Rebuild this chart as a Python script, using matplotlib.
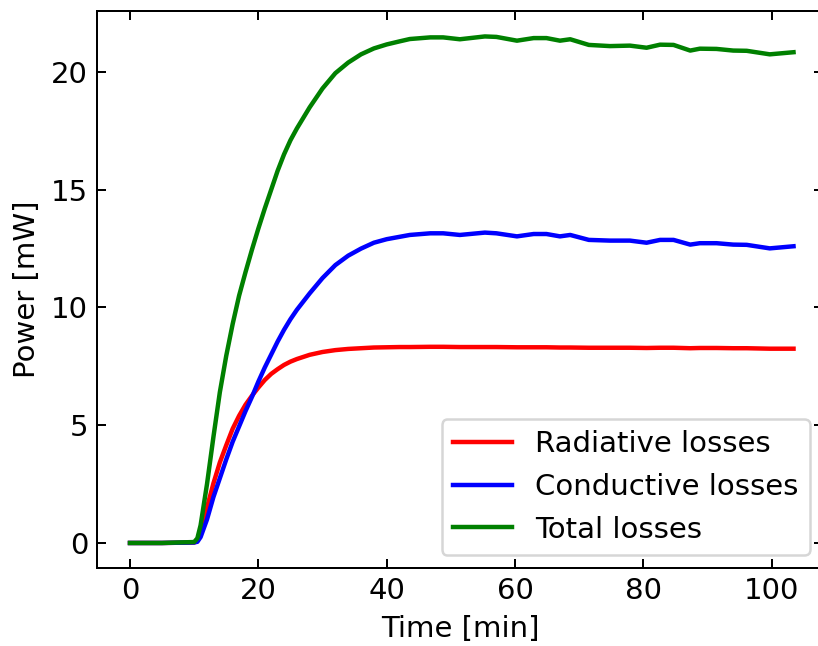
import matplotlib
matplotlib.use("Agg")
import matplotlib.pyplot as plt

time_min = [0, 5, 10, 10.5, 11, 12, 13, 14, 15, 16, 17, 18, 19, 20, 21, 22, 23, 24, 25, 26,
            28, 30, 32, 34, 36, 38, 40, 42, 43.6, 46.8, 48.8, 51.4, 55.3, 57.1, 60.3, 62.9,
            64.9, 67.0, 68.6, 71.5, 74.8, 77.9, 80.5, 82.6, 84.7, 87.3, 88.8, 91.4, 94.0,
            96.1, 99.7, 103.4]

radiative = [0.0, 0.0, 0.02, 0.1, 0.4, 1.5, 2.53, 3.42, 4.15, 4.85, 5.40, 5.87, 6.25, 6.60,
             6.92, 7.18, 7.38, 7.56, 7.70, 7.81, 7.99, 8.11, 8.19, 8.24, 8.27, 8.30, 8.31,
             8.32, 8.32, 8.33, 8.33, 8.32, 8.32, 8.32, 8.31, 8.31, 8.31, 8.30, 8.30, 8.29,
             8.29, 8.29, 8.28, 8.29, 8.29, 8.27, 8.28, 8.28, 8.27, 8.27, 8.25, 8.25]

conductive = [0.0, 0.0, 0.02, 0.05, 0.25, 1.0, 1.95, 2.75, 3.55, 4.3, 4.95, 5.6, 6.2, 6.85,
              7.45, 8.0, 8.55, 9.05, 9.5, 9.9, 10.6, 11.25, 11.8, 12.2, 12.5, 12.75, 12.9,
              13.0, 13.08, 13.15, 13.15, 13.08, 13.18, 13.15, 13.02, 13.12, 13.12, 13.02,
              13.08, 12.87, 12.84, 12.84, 12.75, 12.87, 12.87, 12.67, 12.73, 12.73, 12.67,
              12.66, 12.51, 12.60]

total = [0.0, 0.0, 0.04, 0.2, 0.75, 2.5, 4.5, 6.4, 7.95, 9.3, 10.5, 11.5, 12.45, 13.35,
         14.2, 15.0, 15.8, 16.5, 17.1, 17.6, 18.5, 19.3, 19.95, 20.4, 20.75, 21.0, 21.17,
         21.3, 21.40, 21.47, 21.47, 21.39, 21.51, 21.49, 21.33, 21.44, 21.44, 21.33, 21.39,
         21.15, 21.10, 21.12, 21.03, 21.16, 21.15, 20.91, 20.99, 20.98, 20.91, 20.90,
         20.75, 20.84]

labels = ["Radiative losses", "Conductive losses", "Total losses"]
colors = ["red", "blue", "green"]

s = 1.8
plt.rcParams.update({
    "font.family": "DejaVu Sans",
    "font.size": 21,
    "axes.linewidth": 0.8 * s,
    "xtick.major.size": 3.5 * s,
    "ytick.major.size": 3.5 * s,
    "xtick.major.width": 0.8 * s,
    "ytick.major.width": 0.8 * s,
    "xtick.major.pad": 3.5 * s,
    "ytick.major.pad": 3.5 * s,
    "axes.labelpad": 4.0 * s,
    "patch.linewidth": 1.0 * s,
    "xtick.direction": "in",
    "ytick.direction": "in",
})

W, H = 818, 646
fig = plt.figure(figsize=(W / 100, H / 100), dpi=100)
ax = fig.add_axes([96.95 / W, (H - 568.3) / H, 726.1 / W, 557.2 / H])

for series, lab, c in zip([radiative, conductive, total], labels, colors):
    ax.plot(time_min, series, color=c, lw=3.2, label=lab)

ax.set_xlim(-5.15, 108.0)
ax.set_ylim(-1.0755, 22.586)
ax.set_xticks([0, 20, 40, 60, 80, 100])
ax.set_yticks([0, 5, 10, 15, 20])
ax.tick_params(top=True, right=True)
ax.set_xlabel("Time [min]")
ax.set_ylabel("Power [mW]")
ax.legend(loc="lower right", borderaxespad=0.45)

fig.savefig("out.png", dpi=100)
